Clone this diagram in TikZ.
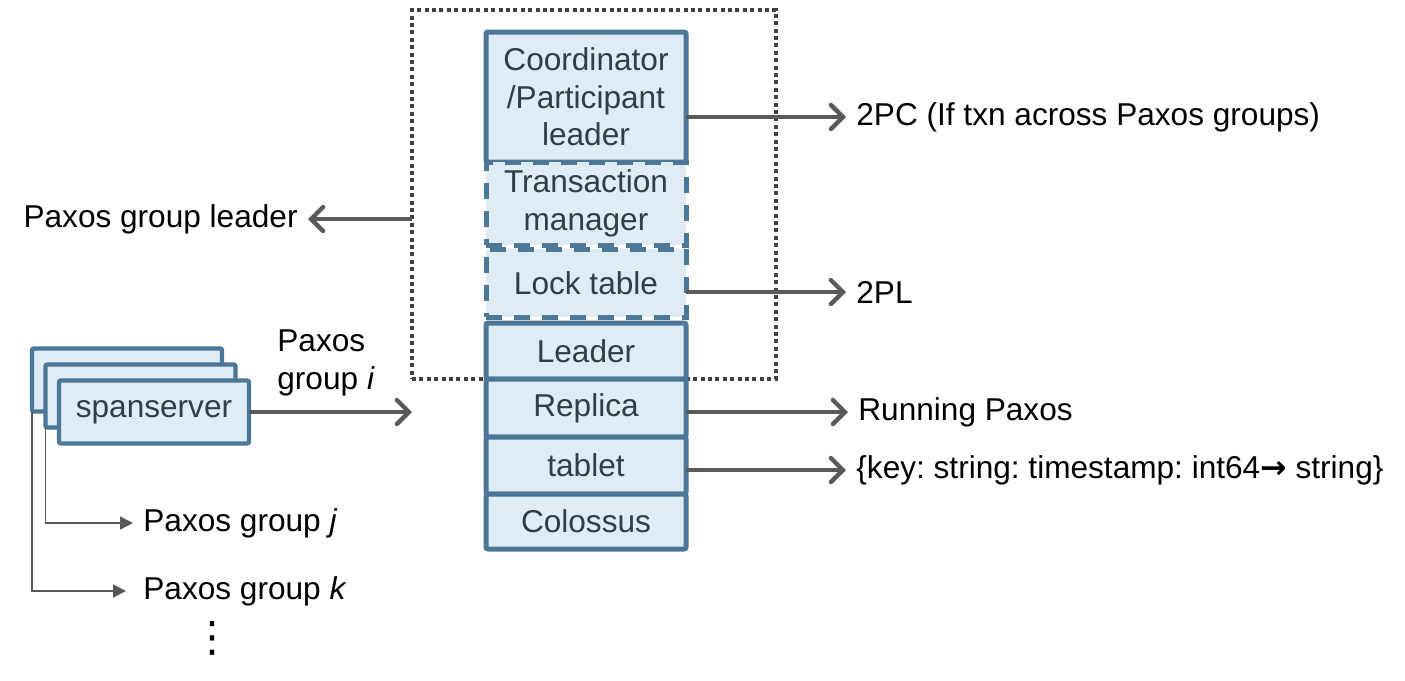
\documentclass[tikz,border=0pt]{standalone}
\usepackage{fontspec}
\setmainfont{Liberation Sans}
\newfontfamily\arrowfont{DejaVu Sans}
\usetikzlibrary{positioning,arrows.meta}
\frenchspacing
\newcommand{\labelfont}{\fontsize{15.8}{18.75}\selectfont}
\definecolor{layerblue}{RGB}{76,119,150}
\definecolor{layerfill}{RGB}{223,235,245}
\definecolor{layertext}{RGB}{50,62,70}
\definecolor{arrowgray}{RGB}{89,89,89}
\definecolor{groupgray}{RGB}{64,64,64}
\tikzstyle{layerbox} = [text centered, align=center, fill=layerfill, draw=layerblue, line width=2.5pt, minimum width=100pt, outer sep=0pt, text=layertext, font=\labelfont]
\tikzstyle{solidlayer} = [layerbox, rounded corners=1pt]
\tikzstyle{dashedlayer} = [layerbox, dash pattern=on 8pt off 6pt]
\tikzstyle{serverbox} = [layerbox, line width=2.2pt, minimum width=95pt, minimum height=31.5pt, rounded corners=1pt]
\tikzstyle{groupbox} = [draw=groupgray, line width=1.8pt, dash pattern=on 2pt off 1.7pt, minimum width=182pt, minimum height=184.5pt, outer sep=0pt]
\tikzstyle{outlabel} = [inner sep=5pt, font=\labelfont]
\tikzstyle{flowarrow} = [-{Straight Barb[length=6pt,width=12pt,line cap=round]}, line width=2.2pt, draw=arrowgray]
\tikzstyle{brancharrow} = [-{Triangle[length=6.5pt,width=6.5pt]}, line width=0.7pt, draw=arrowgray]

\begin{document}
\begin{tikzpicture}[x=0.5pt, y=-0.5pt]
		\useasboundingbox (0,0) rectangle (1405,681);
		% paxos group (dotted)
		\node (paxosgroup) [groupbox] at (594,194.5) {};
		% layer stack
		\node (coord) [solidlayer, minimum height=65pt] at (586,97) {Coordinator\\/Participant\\leader};
		\node (txn) [dashedlayer, minimum height=41.5pt, below=0pt of coord] {Transaction\\manager};
		\node (lock) [dashedlayer, minimum height=34pt, below=2pt of txn] {Lock table};
		\node (leader) [solidlayer, minimum height=28pt, below=3pt of lock] {Leader};
		\node (replica) [solidlayer, minimum height=29pt, below=0pt of leader] {Replica};
		\node (tablet) [solidlayer, minimum height=28.5pt, below=0pt of replica] {tablet};
		\node (colossus) [solidlayer, minimum height=27.5pt, below=0pt of tablet] {Colossus};
		% spanservers
		\node (span1) [serverbox] at (127,380) {};
		\node (span2) [serverbox] at ([xshift=6.75pt,yshift=-8pt]span1) {};
		\node (span3) [serverbox] at ([xshift=6.75pt,yshift=-8pt]span2) {spanserver};
		% labels
		\node (twopc) [outlabel, anchor=west] at (846,117) {2PC (If txn across Paxos groups)};
		\node (twopl) [outlabel, anchor=west] at (846,292) {2PL};
		\node (running) [outlabel, anchor=west] at (848,412) {Running Paxos};
		\node (keymap) [outlabel, anchor=west] at (846,470) {\{key: string: timestamp: int64{\arrowfont\bfseries →} string\}};
		\node (grpleader) [outlabel, anchor=east] at (308,219) {Paxos group leader};
		\node (groupi) [outlabel, align=left, anchor=west] at (267,363) {Paxos\\group \textit{i}};
		\node (groupj) [outlabel, anchor=west] at (133,523) {Paxos group \textit{j}};
		\node (groupk) [outlabel, anchor=west] at (133,591) {Paxos group \textit{k}};
		\node (more) [inner sep=0pt, font=\arrowfont\fontsize{21}{21}\selectfont] at (212,638) {⋮};
		% connectors
		\draw [flowarrow] (coord.east |- twopc) -- (twopc);
		\draw [flowarrow] (lock.east |- twopl) -- (twopl);
		\draw [flowarrow] (replica.east |- running) -- (running);
		\draw [flowarrow] (tablet.east |- keymap) -- (keymap);
		\draw [flowarrow] (paxosgroup.west |- grpleader) -- (grpleader);
		\draw [flowarrow] (span3) -- (paxosgroup.west |- span3);
		\draw [brancharrow] (span2.south west) |- (groupj);
		\draw [brancharrow, shorten >=3.5pt] (span1.south west) |- (groupk);
	\end{tikzpicture}
\end{document}
